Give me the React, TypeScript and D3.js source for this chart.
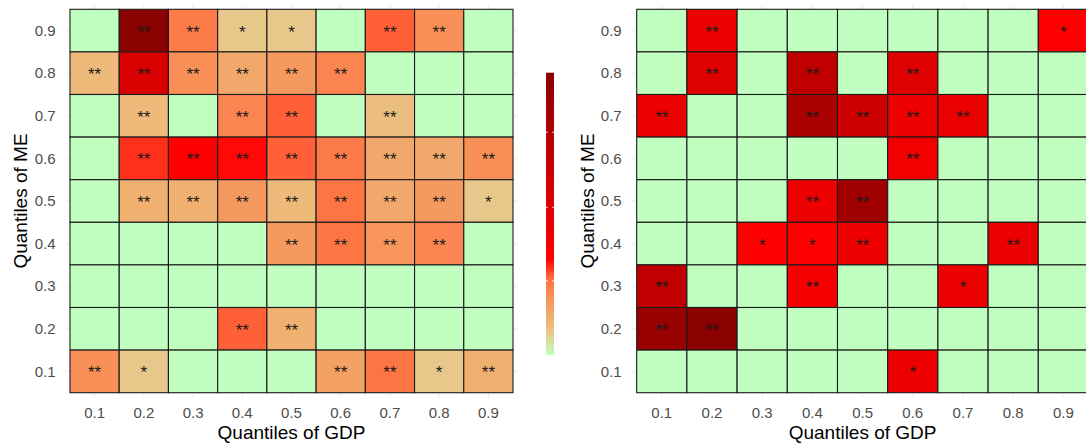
import React from "react";
import * as d3 from "d3";

const gdpQuantiles = ["0.1", "0.2", "0.3", "0.4", "0.5", "0.6", "0.7", "0.8", "0.9"];
// rows from top (ME 0.9) to bottom (ME 0.1)
const meQuantiles = ["0.9", "0.8", "0.7", "0.6", "0.5", "0.4", "0.3", "0.2", "0.1"];

const leftValues = [
  [0, 1.0, 0.25, 0.08, 0.08, 0, 0.28, 0.21, 0],
  [0.11, 0.56, 0.21, 0.15, 0.19, 0.23, 0, 0, 0],
  [0, 0.11, 0, 0.23, 0.28, 0, 0.1, 0, 0],
  [0, 0.31, 0.34, 0.335, 0.28, 0.25, 0.15, 0.15, 0.21],
  [0, 0.13, 0.13, 0.19, 0.11, 0.26, 0.15, 0.19, 0.08],
  [0, 0, 0, 0, 0.19, 0.26, 0.2, 0.23, 0],
  [0, 0, 0, 0, 0, 0, 0, 0, 0],
  [0, 0, 0, 0.28, 0.13, 0, 0, 0, 0],
  [0.21, 0.08, 0, 0, 0, 0.17, 0.26, 0.08, 0.13],
];
const leftStars = [
  ["", "**", "**", "*", "*", "", "**", "**", ""],
  ["**", "**", "**", "**", "**", "**", "", "", ""],
  ["", "**", "", "**", "**", "", "**", "", ""],
  ["", "**", "**", "**", "**", "**", "**", "**", "**"],
  ["", "**", "**", "**", "**", "**", "**", "**", "*"],
  ["", "", "", "", "**", "**", "**", "**", ""],
  ["", "", "", "", "", "", "", "", ""],
  ["", "", "", "**", "**", "", "", "", ""],
  ["**", "*", "", "", "", "**", "**", "*", "**"],
];

const rightValues = [
  [0, 0.44, 0, 0, 0, 0, 0, 0, 0.34],
  [0, 0.52, 0, 0.7, 0, 0.52, 0, 0, 0],
  [0.44, 0, 0, 0.82, 0.63, 0.44, 0.46, 0, 0],
  [0, 0, 0, 0, 0, 0.42, 0, 0, 0],
  [0, 0, 0, 0.43, 0.88, 0, 0, 0, 0],
  [0, 0, 0.34, 0.35, 0.43, 0, 0, 0.44, 0],
  [0.7, 0, 0, 0.38, 0, 0, 0.43, 0, 0],
  [0.92, 1.0, 0, 0, 0, 0, 0, 0, 0],
  [0, 0, 0, 0, 0, 0.43, 0, 0, 0],
];
const rightStars = [
  ["", "**", "", "", "", "", "", "", "*"],
  ["", "**", "", "**", "", "**", "", "", ""],
  ["**", "", "", "**", "**", "**", "**", "", ""],
  ["", "", "", "", "", "**", "", "", ""],
  ["", "", "", "**", "**", "", "", "", ""],
  ["", "", "*", "*", "**", "", "", "**", ""],
  ["**", "", "", "**", "", "", "*", "", ""],
  ["**", "**", "", "", "", "", "", "", ""],
  ["", "", "", "", "", "*", "", "", ""],
];

const colorStops = [0, 0.08, 0.13, 0.2, 0.27, 0.34, 1];
const colorRange = ["#C1FFC1", "#E8C88A", "#F0B070", "#F7955C", "#FF7040", "#FF0000", "#8B0000"];
const colorbarBreaks = [0.263, 0.523, 0.789];

const xTitle = "Quantiles of GDP";
const yTitle = "Quantiles of ME";

const FONT = "'Liberation Sans', Arial, Helvetica, sans-serif";

const color = d3.scaleLinear<string>().domain(colorStops).range(colorRange).clamp(true);

type PanelProps = {
  values: number[][];
  stars: string[][];
  x0: number;
  x1: number;
  yLabelRight: number;
  yTitleX: number;
};

function Panel({ values, stars, x0, x1, yLabelRight, yTitleX }: PanelProps) {
  const x = d3.scaleBand<string>().domain(gdpQuantiles).range([x0, x1]).padding(0);
  const y = d3.scaleBand<string>().domain(meQuantiles).range([9.3, 392.7]).padding(0);
  const bw = x.bandwidth();
  const bh = y.bandwidth();
  const px0 = x0 - 0.1 * bw;
  const px1 = x1 + 0.1 * bw;
  const py0 = 9.3 - 0.1 * bh;
  const py1 = 392.7 + 0.1 * bh;
  const cx = (x0 + x1) / 2;
  const cy = (9.3 + 392.7) / 2;
  return (
    <g>
      {gdpQuantiles.map((g) => (
        <line key={"gx" + g} x1={x(g)! + bw / 2} x2={x(g)! + bw / 2} y1={py0} y2={py1} stroke="#EBEBEB" strokeWidth={1} />
      ))}
      {meQuantiles.map((m) => (
        <line key={"gy" + m} y1={y(m)! + bh / 2} y2={y(m)! + bh / 2} x1={px0} x2={px1} stroke="#EBEBEB" strokeWidth={1} />
      ))}
      {meQuantiles.map((m, i) =>
        gdpQuantiles.map((g, j) => (
          <rect
            key={m + "-" + g}
            x={x(g)!}
            y={y(m)!}
            width={bw}
            height={bh}
            fill={color(values[i][j])}
            stroke="#1A1A1A"
            strokeWidth={1.1}
          />
        ))
      )}
      {meQuantiles.map((m, i) =>
        gdpQuantiles.map((g, j) =>
          stars[i][j] ? (
            <text
              key={"s" + m + "-" + g}
              x={x(g)! + bw / 2}
              y={y(m)! + bh / 2 + 7}
              textAnchor="middle"
              fontFamily={FONT}
              fontSize={17}
              fill="#1A1A1A"
            >
              {stars[i][j]}
            </text>
          ) : null
        )
      )}
      {meQuantiles.map((m) => (
        <text
          key={"yl" + m}
          x={yLabelRight}
          y={y(m)! + bh / 2}
          dy="0.35em"
          textAnchor="end"
          fontFamily={FONT}
          fontSize={15}
          fill="#4D4D4D"
        >
          {m}
        </text>
      ))}
      {gdpQuantiles.map((g) => (
        <text
          key={"xl" + g}
          x={x(g)! + bw / 2}
          y={418}
          textAnchor="middle"
          fontFamily={FONT}
          fontSize={15}
          fill="#4D4D4D"
        >
          {g}
        </text>
      ))}
      <text x={cx} y={439} textAnchor="middle" fontFamily={FONT} fontSize={19} fill="#000">
        {xTitle}
      </text>
      <text
        transform={`translate(${yTitleX},${cy}) rotate(-90)`}
        dy="0.35em"
        textAnchor="middle"
        fontFamily={FONT}
        fontSize={19}
        fill="#000"
      >
        {yTitle}
      </text>
    </g>
  );
}

function Colorbar() {
  const top = 72.7;
  const bottom = 355;
  const left = 546;
  const w = 8;
  const s = d3.scaleLinear().domain([0, 1]).range([bottom, top]);
  return (
    <g>
      <defs>
        <linearGradient id="cbar" x1="0" y1="1" x2="0" y2="0">
          {colorStops.map((v, i) => (
            <stop key={i} offset={`${v * 100}%`} stopColor={colorRange[i]} />
          ))}
        </linearGradient>
      </defs>
      <rect x={left} y={top} width={w} height={bottom - top} fill="url(#cbar)" />
      {colorbarBreaks.map((b) => (
        <g key={b}>
          <line x1={left} x2={left + 1.6} y1={s(b)} y2={s(b)} stroke="#fff" strokeWidth={1} />
          <line x1={left + w - 1.6} x2={left + w} y1={s(b)} y2={s(b)} stroke="#fff" strokeWidth={1} />
        </g>
      ))}
    </g>
  );
}

export default function App() {
  return (
    <svg
      width={1086}
      height={446}
      style={{ position: "absolute", left: 0, top: 0, background: "#fff", overflow: "hidden" }}
    >
      <rect width={1086} height={446} fill="#fff" />
      <Panel values={leftValues} stars={leftStars} x0={70} x1={513} yLabelRight={55.5} yTitleX={20} />
      <Colorbar />
      <Panel values={rightValues} stars={rightStars} x0={636.7} x1={1088.5} yLabelRight={621.7} yTitleX={587} />
    </svg>
  );
}
